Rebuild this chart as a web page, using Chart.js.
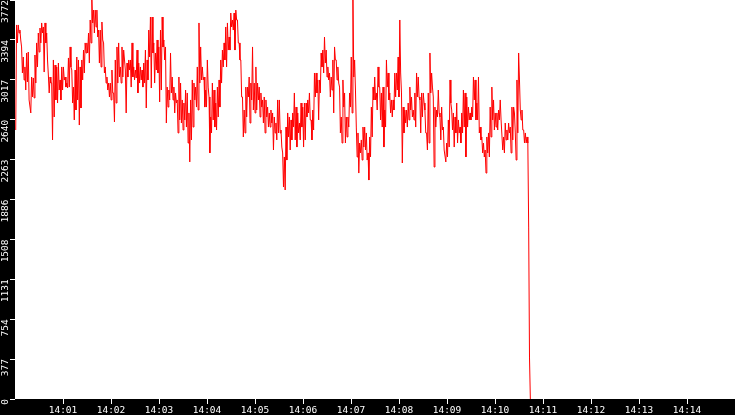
<!DOCTYPE html>
<html><head><meta charset="utf-8">
<script src="https://cdn.jsdelivr.net/npm/chart.js@4.4.1/dist/chart.umd.min.js"></script>
<style>html,body{margin:0;padding:0;background:#000;overflow:hidden}#wrap{width:735px;height:415px;position:relative}</style>
</head><body><div id="wrap"><canvas id="c" width="735" height="415"></canvas></div>
<script>
// sampling: one reading roughly every 1.05 s starting just after 14:00:00
const FIRST_SEC = 0.9;
const SAMPLE_SEC = 1.046;
const X_MAX_SEC = 900; // 14:00 .. 14:15
const Y_MAX = 3772;

const valuesA = [2543,
3536,3366,3536,3460,3488,3394,3328,3082,3233,3016,3139,2921,3271,2997,3280,2827,2827,2704,3044,2855,
3035,2846,3252,2987,3366,3139,3460,3280,3507,3366,3555,3460,3517,3091,3555,3366,3460,3205,3063,2893,
3044,2987,2987,2449,3205,2666,3157,2827,3139,2798,3176,2921,3016,2827,3139,2921,3139,3016,3044,2949,
2987,2940,3224,2949,3328,3139,3110,2798,2949,2638,3110,2732,3233,2827,3205,2590,3139,2751,3205,3016,
3299,3082,3366,3271,3366,3271,3460,3176,3583,3366,3772,3555,3677,3460,3677,3517,3677,3422,3488,3176,
3488,3139,3564,3394,3366,3082,3139,2987,3044,2921,2987,2855,2987,2827,3110,2893,2893,2619,3205,2798,
3328,2987,3366,3044,3139,2987,3328,3044,3299,3205];

const valuesB = [
3110,2704,3176,3044,3205,3110,3205,2949,3366,3044,3139,3016,3110,3035,3299,2893,3176,2987,3139,3016,
3110,2949,3176,2987,3299,2751,3205,3016,3488,3233,3611,2940,3611,3271,3366,2987,3271,3110,3394,3082,
3328,2808,3488,2921,3611,3328,3394,3205,3328,2609,2949,2760,2921,2827,3271,2893,3044,2827,2949,2704,
2893,2798,2827,2515,3044,2638,2987,2609,2827,2543,2798,2638,2921,2571,2893,2420,2704,2241,2827,2449,
3016,2571,2987,2827,2949,2760,3139,2732,3555,2987,3328,3016,3139,3016,3044,2760,2921,2760,3205,2949,
2855,2326,2666,2515,2987,2638,2921,2571,2798,2543,2949,2666,3016,2760,3205,2987,3299,3139,3366,3205,
3517,3139,3555,3299,3422,3299];

const valuesC = [
3649,3517,3583,3488,3649,3299,3677,3583,3583,3366,3366,3205,3205,2855,2855,2477,2732,2515,2949,2666,
2949,2855,3044,2609,2987,2827,3328,2732,2987,2704,3139,2732,2987,2827,2949,2666,2893,2760,2827,2609,
2855,2515,2827,2666,2760,2571,2704,2571,2732,2609,2704,2354,2666,2515,2609,2449,2827,2515,2827,2515,
2543,2382,2326,2004,2288,1976,2571,2259,2704,2477,2666,2354,2638,2449,2704,2571,2893,2449,2760,2382,
2704,2515,2609,2449,2798,2571,2760,2382,2798,2449,2798,2666,2827,2704,2893,2638,2638,2449,2732,2543,
3082,2855,3082,2893,3016,2638,3016,2893,3271,3139,3299,3082,3422,3176,3299,3044,3139,3016,3082,2855,
3044,2921,3205,2704,3328,3205];

const valuesD = [
3205,3016,3139,2987,2949,2515,2666,2420,3016,2760,2893,2420,2666,2477,2666,2571,2893,2760,3233,2704,
3772,3044,3205,2921,2571,2288,2515,2136,2420,2326,2449,2259,2571,2382,2571,2354,2515,2259,2326,2070,
2477,2288,2760,2477,2949,2827,3044,2827,2893,2732,3139,2949,2949,2638,2893,2571,2949,2382,2732,2571,
3205,2949,3082,2827,2893,2704,2827,2666,2827,2732,3082,2855,3082,2921,3233,2855,3583,3082,2893,2231,
2760,2515,2732,2609,2732,2571,2798,2638,2949,2732,2855,2666,2732,2638,2893,2571,3082,2855,3044,2855,
2827,2515,2893,2666,2893,2798,2732,2515,2515,2354,2893,2420,3271,2893,3082,2949,2855,2193,2760,2571,
2732,2666,2921,2704,2666,2449];

const valuesE = [
2760,2543,2571,2354,2354,2241,2420,2288,2638,2382,3016,2798,2732,2543,2704,2382,2666,2515,2798,2420,
2638,2515,2571,2420,2704,2515,2921,2571,2893,2288,2855,2571,2760,2638,2704,2638,2760,2666,3044,2827,
3016,2638,2798,2638,3044,2515,2571,2449,2477,2326,2420,2288,2354,2136,2477,2326,2515,2288,2760,2477,
2949,2638,2827,2543,2704,2571,2704,2543,2732,2638,2827,2638,2638,2354,2477,2326,2609,2449,2543,2449,
2609,2515,2571,2326,2760,2449,2760,2704,2515,2259,3016,2515,3271,3016,2732,2638,2732,2543,2543,2420,
2515,2420,2477,2420];

const valuesEnd = [1617, 388, 0];

const xTickLabels = ['14:01','14:02','14:03','14:04','14:05','14:06','14:07','14:08','14:09','14:10','14:11','14:12','14:13','14:14'];
const yTickLabels = ['0','377','754','1131','1508','1886','2263','2640','3017','3394','3772'];

const values = [].concat(valuesA, valuesB, valuesC, valuesD, valuesE, valuesEnd);
const points = values.map((v, i) => ({ x: FIRST_SEC + i * SAMPLE_SEC, y: v }));
const labelToSec = l => (parseInt(l.split(':')[1], 10)) * 60;

const FONT = { family: 'DejaVu Sans Mono', size: 9.5 };

const bgPlugin = {
  id: 'bg',
  beforeDraw(chart) {
    const { ctx, chartArea: a } = chart;
    ctx.save();
    ctx.fillStyle = '#000';
    ctx.fillRect(0, 0, chart.width, chart.height);
    ctx.fillStyle = '#fff';
    ctx.fillRect(a.left, a.top, a.right - a.left, a.bottom - a.top);
    ctx.restore();
  }
};

new Chart(document.getElementById('c'), {
  type: 'line',
  data: {
    datasets: [{
      data: points,
      borderColor: '#ff0000',
      borderWidth: 1,
      pointRadius: 0,
      tension: 0,
      fill: false
    }]
  },
  options: {
    responsive: false,
    animation: false,
    devicePixelRatio: 1,
    layout: { padding: 0 },
    plugins: { legend: { display: false }, tooltip: { enabled: false } },
    scales: {
      x: {
        type: 'linear',
        min: 0,
        max: X_MAX_SEC,
        afterBuildTicks: s => { s.ticks = xTickLabels.map(l => ({ value: labelToSec(l) })); },
        afterFit: s => { s.height = 16; s.paddingLeft = 0; s.paddingRight = 0; },
        ticks: {
          color: '#fff', font: FONT, padding: 1, autoSkip: false, maxRotation: 0, minRotation: 0,
          callback: (v, i) => xTickLabels[i]
        },
        grid: { drawOnChartArea: false, drawTicks: true, tickLength: 5, tickColor: '#fff', color: '#fff' },
        border: { display: false }
      },
      y: {
        type: 'linear',
        min: 0,
        max: Y_MAX,
        afterBuildTicks: s => { s.ticks = yTickLabels.map(l => ({ value: Number(l) })); },
        afterFit: s => { s.width = 15; s.paddingTop = 0; s.paddingBottom = 0; },
        ticks: {
          color: '#fff', font: FONT, padding: 4, autoSkip: false, minRotation: 90, maxRotation: 90,
          callback: (v, i) => yTickLabels[i]
        },
        grid: { drawOnChartArea: false, drawTicks: true, tickLength: 5, tickColor: '#fff', color: '#fff' },
        border: { display: false }
      }
    }
  },
  plugins: [bgPlugin]
});
</script>
</body></html>
